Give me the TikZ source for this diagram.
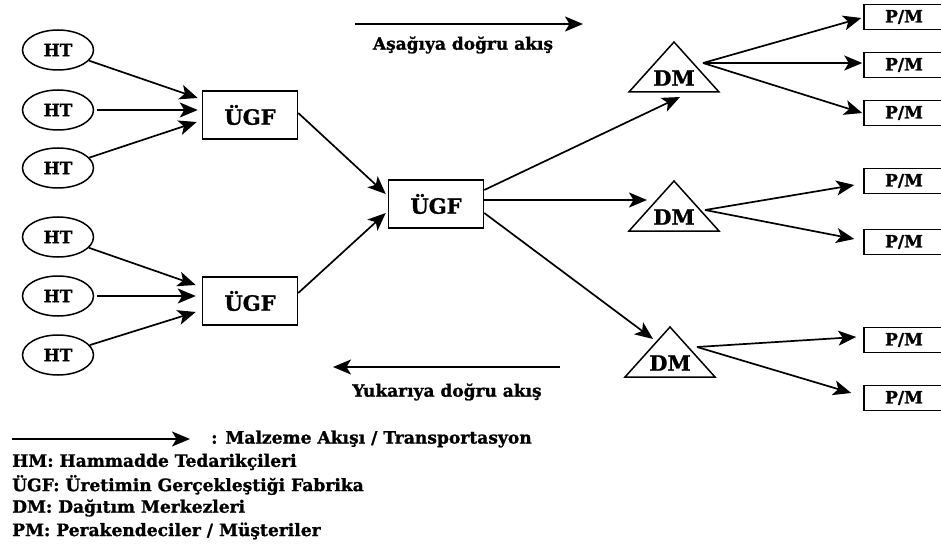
\documentclass[tikz,border=0pt]{standalone}
\usepackage{fontspec}
\setmainfont{DejaVu Serif}[BoldFeatures={FakeBold=1.2}]
\usetikzlibrary{arrows.meta,shapes.geometric}
\begin{document}
\begin{tikzpicture}[x=1pt,y=-1pt,
  every node/.style={font=\bfseries},
  arr/.style={line width=1.7pt,-{Stealth[length=18pt,width=15pt,inset=4.5pt]}},
  htnode/.style={draw,line width=1.5pt,ellipse,minimum width=71pt,minimum height=40pt,inner sep=0pt,font=\bfseries\fontsize{17}{20}\selectfont},
  ugfnode/.style={draw,line width=1.5pt,rectangle,minimum width=95pt,minimum height=48pt,inner sep=0pt,font=\bfseries\fontsize{21}{24}\selectfont},
  pmnode/.style={draw,line width=1.5pt,rectangle,minimum width=80pt,minimum height=25pt,inner sep=0pt,font=\bfseries\fontsize{17}{19}\selectfont},
  dmnode/.style={inner sep=0pt,font=\bfseries\fontsize{21}{24}\selectfont},
  tri/.style={draw,line width=1.5pt,line join=miter},
  lbl/.style={inner sep=0pt,font=\bfseries\fontsize{17}{20}\selectfont},
  leg/.style={inner sep=0pt,anchor=west,font=\bfseries\fontsize{17.1}{20}\selectfont}
]
\useasboundingbox (0,0) rectangle (941,553);
% HT nodes
\node[htnode] (ht1) at (58,50) {HT};
\node[htnode] (ht2) at (58,110) {HT};
\node[htnode] (ht3) at (58,168) {HT};
\node[htnode] (ht4) at (58,237) {HT};
\node[htnode] (ht5) at (58,296) {HT};
\node[htnode] (ht6) at (58,355) {HT};
% UGF nodes
\node[ugfnode] (ugf1) at (250,115) {ÜGF};
\node[ugfnode] (ugf2) at (250,301) {ÜGF};
\node[ugfnode] (ugf3) at (436,204) {ÜGF};
% DM nodes
\node[dmnode] (dm1) at (674,78) {DM};
\node[dmnode] (dm2) at (674,217) {DM};
\node[dmnode] (dm3) at (670,363) {DM};
\foreach \d in {dm1,dm2,dm3}{
  \draw[tri] ([shift={(0,-36)}]\d.center) -- ([shift={(-45,14)}]\d.center) -- ([shift={(45,14)}]\d.center) -- cycle;
}
% P/M nodes
\node[pmnode] (pm1) at (904,17) {P/M};
\node[pmnode] (pm2) at (904,65) {P/M};
\node[pmnode] (pm3) at (904,113) {P/M};
\node[pmnode] (pm4) at (904,181) {P/M};
\node[pmnode] (pm5) at (904,242) {P/M};
\node[pmnode] (pm6) at (904,340) {P/M};
\node[pmnode] (pm7) at (904,398) {P/M};
% HT -> UGF
\draw[arr] (ht1) -- ([shift={(-4,-17)}]ugf1.west);
\draw[arr] ([shift={(3,0)}]ht2.east) -- ([shift={(-4,-5)}]ugf1.west);
\draw[arr] (ht3) -- ([shift={(-5,7)}]ugf1.west);
\draw[arr] (ht4) -- ([shift={(-6,-16)}]ugf2.west);
\draw[arr] ([shift={(3,0)}]ht5.east) -- ([shift={(-6,-5)}]ugf2.west);
\draw[arr] (ht6) -- ([shift={(-6,11)}]ugf2.west);
% UGF -> UGF
\draw[arr] ([shift={(0,-2)}]ugf1.east) -- ([shift={(-2,-10)}]ugf3.west);
\draw[arr] ([shift={(0,-8)}]ugf2.east) -- ([shift={(-2,9)}]ugf3.west);
% UGF -> DM
\draw[arr] ([shift={(0,-14)}]ugf3.east) -- ([shift={(6,19)}]dm1.center);
\draw[arr] ([shift={(0,-4)}]ugf3.east) -- ([shift={(-27,-17)}]dm2.center);
\draw[arr] ([shift={(0,9)}]ugf3.east) -- ([shift={(-17,-24)}]dm3.center);
% DM -> PM
\draw[arr] ([shift={(29,-15)}]dm1.center) -- ([shift={(-2,1)}]pm1.west);
\draw[arr] ([shift={(29,-15)}]dm1.center) -- ([shift={(-1,-2)}]pm2.west);
\draw[arr] ([shift={(29,-15)}]dm1.center) -- ([shift={(-1,0)}]pm3.west);
\draw[arr] ([shift={(31,-7)}]dm2.center) -- ([shift={(-9,4)}]pm4.west);
\draw[arr] ([shift={(31,-7)}]dm2.center) -- ([shift={(-9,-3)}]pm5.west);
\draw[arr] ([shift={(27,-16)}]dm3.center) -- ([shift={(-7,-3)}]pm6.west);
\draw[arr] ([shift={(27,-16)}]dm3.center) -- ([shift={(-12,-5)}]pm7.west);
% flow arrows
\coordinate (da) at (355,24);
\coordinate (db) at (583,24);
\draw[arr] (da) -- (db);
\node[lbl] (dtext) at (463,45) {Aşağıya doğru akış};
\coordinate (ua) at (560,367);
\coordinate (ub) at (333,367);
\draw[arr] (ua) -- (ub);
\node[lbl] (utext) at (447,392) {Yukarıya doğru akış};
% legend
\coordinate (la) at (12,439);
\coordinate (lb) at (190,439);
\draw[arr] (la) -- (lb);
\node[leg] (l0) at (211,439) {: Malzeme Akışı / Transportasyon};
\node[leg] (l1) at (12,462) {HM: Hammadde Tedarikçileri};
\node[leg] (l2) at (12,485) {ÜGF: Üretimin Gerçekleştiği Fabrika};
\node[leg] (l3) at (12,508) {DM: Dağıtım Merkezleri};
\node[leg] (l4) at (12,531) {PM: Perakendeciler / Müşteriler};
\end{tikzpicture}
\end{document}
